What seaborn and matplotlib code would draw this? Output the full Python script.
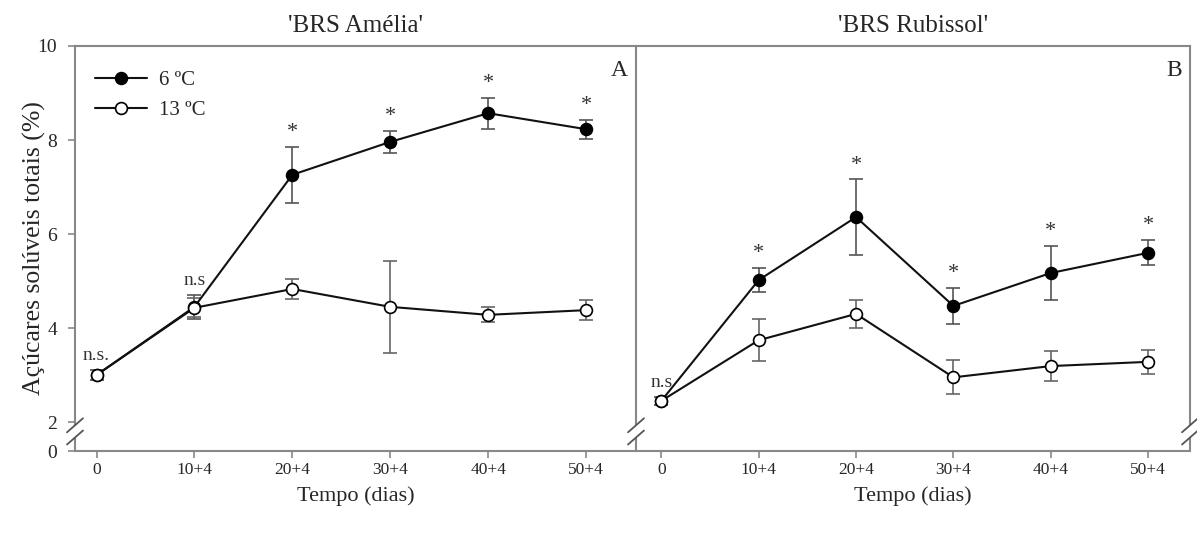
import matplotlib
matplotlib.use("Agg")
import matplotlib.pyplot as plt
import seaborn as sns
import numpy as np

# storage days and cultivar data (mean and error, %)
days = ["0", "10+4", "20+4", "30+4", "40+4", "50+4"]

amelia_6 = [3.0, 4.45, 7.26, 7.96, 8.57, 8.23]
amelia_6_err = [0.1, 0.25, 0.6, 0.23, 0.33, 0.2]
amelia_13 = [3.0, 4.43, 4.83, 4.45, 4.28, 4.38]
amelia_13_err = [0.1, 0.2, 0.21, 0.98, 0.16, 0.22]

rubissol_6 = [2.45, 5.02, 6.36, 4.47, 5.17, 5.60]
rubissol_6_err = [0.08, 0.25, 0.8, 0.38, 0.57, 0.27]
rubissol_13 = [2.45, 3.74, 4.30, 2.95, 3.19, 3.28]
rubissol_13_err = [0.08, 0.45, 0.29, 0.36, 0.32, 0.25]

amelia_marks = ["n.s.", "n.s", "*", "*", "*", "*"]
rubissol_marks = ["n.s", "*", "*", "*", "*", "*"]

sns.set_style("ticks")
plt.rcParams['font.family'] = ['Liberation Serif', 'DejaVu Serif']
plt.rcParams['axes.edgecolor'] = '#888888'
plt.rcParams['axes.linewidth'] = 1.5

W, H = 1197, 534
fig = plt.figure(figsize=(W / 100, H / 100), dpi=100)

y_low = 1.383
px_per_unit = 47.0
spine_col = '#888888'

ax1 = fig.add_axes([75 / W, 1 - 451 / H, 561 / W, 405 / H])
ax2 = fig.add_axes([636 / W, 1 - 451 / H, 554 / W, 405 / H], sharey=ax1)


def draw_break(ax, xfrac, ax_w):
    trans = matplotlib.transforms.blended_transform_factory(ax.transAxes, ax.transData)
    dx = 8 / ax_w
    dy = 7 / px_per_unit
    for yc in [1.93, 1.67]:
        ax.plot([xfrac - dx, xfrac + dx], [yc - dy, yc + dy], transform=trans,
                color='#555555', lw=1.3, clip_on=False, zorder=5)
    ax.plot([xfrac, xfrac], [y_low, 1.67], transform=trans, color=spine_col,
            lw=1.5, clip_on=False, zorder=4, solid_capstyle='butt')


def panel(ax, v6, e6, v13, e13, marks, title, letter, xlim, ax_w):
    x = np.arange(len(days))
    ax.errorbar(x, v6, yerr=e6, fmt='none', ecolor='#555555', elinewidth=1.2,
                capsize=5, capthick=1.2, zorder=2)
    ax.errorbar(x, v13, yerr=e13, fmt='none', ecolor='#666666', elinewidth=1.2,
                capsize=5, capthick=1.2, zorder=2)
    sns.lineplot(x=x, y=v6, ax=ax, color='#111111', lw=1.5, marker='o', markersize=8.5,
                 markerfacecolor='black', markeredgecolor='black', mew=1.2,
                 label='6 ºC', zorder=3)
    sns.lineplot(x=x, y=v13, ax=ax, color='#111111', lw=1.5, marker='o', markersize=8.5,
                 markerfacecolor='white', markeredgecolor='black', mew=1.2,
                 label='13 ºC', zorder=4)
    for i, m in enumerate(marks):
        top = max(v6[i] + e6[i], v13[i] + e13[i])
        ax.text(i, top + 0.21, m, ha='center', va='baseline', fontsize=14 if m != '*' else 16,
                color='#333333')
    ax.set_xticks(x)
    ax.set_xticklabels(days, fontsize=12.5)
    ax.set_xlim(*xlim)
    ax.set_ylim(y_low, 10)
    ax.set_xlabel("Tempo (dias)", fontsize=16, labelpad=6)
    ax.set_title(title, fontsize=18, pad=10)
    ax.text(0.985, 0.94, letter, transform=ax.transAxes, ha='right', va='center', fontsize=17)
    ax.tick_params(axis='x', direction='out', length=5, width=1.2, color=spine_col, pad=3)
    ax.spines['left'].set_bounds(1.96, 10)
    draw_break(ax, 0, ax_w)


panel(ax1, amelia_6, amelia_6_err, amelia_13, amelia_13_err, amelia_marks,
      "'BRS Amélia'", "A", (-0.22, 5.51), 561)
panel(ax2, rubissol_6, rubissol_6_err, rubissol_13, rubissol_13_err, rubissol_marks,
      "'BRS Rubissol'", "B", (-0.26, 5.43), 554)

ax1.spines['right'].set_visible(False)
ax2.spines['right'].set_bounds(1.96, 10)
draw_break(ax2, 1, 554)

ax1.set_yticks([y_low, 2, 4, 6, 8, 10])
ax1.set_yticklabels(['0', '2', '4', '6', '8', '10'], fontsize=14)
ax1.tick_params(axis='y', direction='out', length=5, width=1.2, color=spine_col, pad=8)
ax1.set_ylabel("Açúcares solúveis totais (%)", fontsize=18.5, labelpad=-6)
ax2.tick_params(axis='y', left=False, labelleft=False)

ax2.get_legend().remove()
ax1.legend(loc='upper left', bbox_to_anchor=(0.035, 0.94), frameon=False, fontsize=15,
           handlelength=2.5, borderpad=0, borderaxespad=0, labelspacing=0.5,
           handletextpad=0.6)

fig.savefig("out.png", dpi=100)
